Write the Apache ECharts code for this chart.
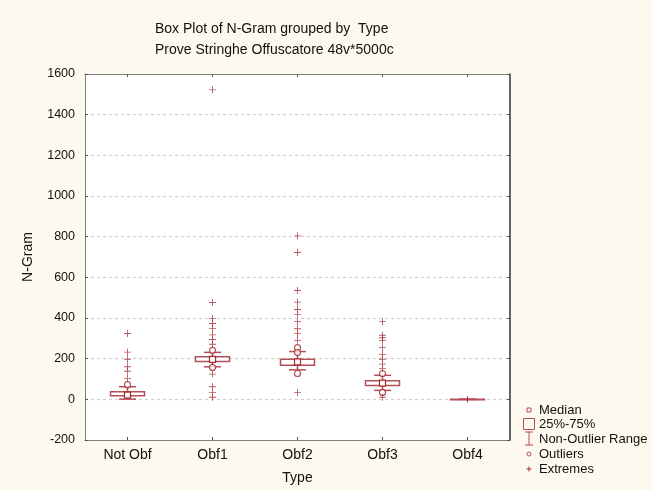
<!DOCTYPE html>
<html>
<head>
<meta charset="utf-8">
<script src="https://cdn.jsdelivr.net/npm/echarts@6/dist/echarts.min.js"></script>
<style>html,body{margin:0;padding:0;background:#fdf9ee;}#c{width:652px;height:490px;}</style>
</head>
<body>
<div id="c"></div>
<script>
const categories = ['Not Obf', 'Obf1', 'Obf2', 'Obf3', 'Obf4'];
const whiskerLow = [1, 160, 145, 44, 0];
const q1 = [18, 186, 168, 68, 0];
const median = [21, 197, 184, 80, 0];
const q3 = [37, 209, 197, 92, 0];
const whiskerHigh = [62, 231, 235, 118, 0];
const outlierValues = [[72], [241, 157], [254, 230, 127], [127, 34], []];
const extremeValues = [
  [324, 232, 197, 160, 138, 103],
  [1522, 476, 398, 373, 349, 317, 294, 271, 124, 62, 34, 10],
  [804, 722, 535, 478, 442, 418, 382, 347, 323, 290, 34],
  [382, 315, 303, 290, 254, 220, 197, 173, 151, 10],
  []
];
const yTicks = { min: -200, max: 1600, interval: 200 };

const RED = '#a32a33';
const BOX = '#b34f56';
const FONT = 'Liberation Sans, Arial';

const boxData = categories.map((c, i) => [i, whiskerLow[i], q1[i], median[i], q3[i], whiskerHigh[i]]);
const outlierData = [];
outlierValues.forEach((arr, i) => arr.forEach(v => outlierData.push([i, v])));
const extremeData = [];
extremeValues.forEach((arr, i) => arr.forEach(v => extremeData.push([i, v])));

const plusPath = 'path://M3.5,0h1v8h-1zM0,3.5h8v1h-8z';

const chart = echarts.init(document.getElementById('c'), null, { renderer: 'canvas' });
const axisLine = { show: true, onZero: false, lineStyle: { color: '#7f7f7f', width: 1 } };
const legendText = (t, y) => ({ type: 'text', x: 539, y: y, style: { text: t, fontFamily: FONT, fontSize: 13, fill: '#111', verticalAlign: 'middle' } });
const seg = (x1, y1, x2, y2, c) => ({ type: 'line', shape: { x1, y1, x2, y2 }, style: { stroke: c || BOX, lineWidth: 1 } });
chart.setOption({
  backgroundColor: '#fdf9ee',
  animation: false,
  title: {
    text: 'Box Plot of N-Gram grouped by  Type\nProve Stringhe Offuscatore 48v*5000c',
    left: 150, top: 14,
    textStyle: { fontFamily: FONT, fontSize: 14, fontWeight: 'normal', color: '#111', lineHeight: 21 }
  },
  grid: { left: 85, top: 74, right: 142, bottom: 47, show: true, backgroundColor: '#ffffff', borderWidth: 0 },
  xAxis: [{
    type: 'category', data: categories, boundaryGap: true,
    name: 'Type', nameLocation: 'middle', nameGap: 31,
    nameTextStyle: { fontFamily: FONT, fontSize: 14, color: '#111' },
    axisLine: axisLine,
    axisTick: { show: true, inside: true, alignWithLabel: true, length: 3, lineStyle: { color: '#555' } },
    axisLabel: { fontFamily: FONT, fontSize: 14, color: '#111', margin: 8 },
    splitLine: { show: false }
  }, {
    type: 'category', data: categories, boundaryGap: true, position: 'top',
    axisLine: axisLine,
    axisTick: { show: true, inside: true, alignWithLabel: true, length: 3, lineStyle: { color: '#555' } },
    axisLabel: { show: false }, splitLine: { show: false }
  }],
  yAxis: [{
    type: 'value', min: yTicks.min, max: yTicks.max, interval: yTicks.interval,
    name: 'N-Gram', nameLocation: 'middle', nameGap: 50,
    nameTextStyle: { fontFamily: FONT, fontSize: 14, color: '#111' },
    axisLine: axisLine,
    axisTick: { show: true, inside: true, length: 3, lineStyle: { color: '#555' } },
    axisLabel: { fontFamily: FONT, fontSize: 12.5, color: '#111', margin: 10, formatter: v => String(v) },
    splitLine: { show: true, showMinLine: false, showMaxLine: false, lineStyle: { color: '#cfcfcf', type: [3, 3], width: 1.2 } }
  }, {
    type: 'value', min: yTicks.min, max: yTicks.max, interval: yTicks.interval, position: 'right',
    axisLine: { show: true, onZero: false, lineStyle: { color: '#333', width: 1.5 } },
    axisTick: { show: true, inside: true, length: 3, lineStyle: { color: '#555' } },
    axisLabel: { show: false }, splitLine: { show: false }
  }],
  series: [{
    name: 'Boxes', type: 'custom', xAxisIndex: 0, yAxisIndex: 0,
    data: boxData,
    encode: { x: 0, y: [1, 2, 3, 4, 5] },
    renderItem: function (params, api) {
      const c = api.value(0);
      const pLow = api.coord([c, api.value(1)]);
      const pQ1 = api.coord([c, api.value(2)]);
      const pMed = api.coord([c, api.value(3)]);
      const pQ3 = api.coord([c, api.value(4)]);
      const pHigh = api.coord([c, api.value(5)]);
      const band = api.size([1, 0])[0];
      const hw = band * 0.2, cw = band * 0.1;
      const x = pQ1[0];
      const ls = { stroke: BOX, lineWidth: 1.5 };
      const children = [
        { type: 'line', shape: { x1: x, y1: pLow[1], x2: x, y2: pQ1[1] }, style: ls },
        { type: 'line', shape: { x1: x, y1: pQ3[1], x2: x, y2: pHigh[1] }, style: ls },
        { type: 'line', shape: { x1: x - cw, y1: pLow[1], x2: x + cw, y2: pLow[1] }, style: ls },
        { type: 'line', shape: { x1: x - cw, y1: pHigh[1], x2: x + cw, y2: pHigh[1] }, style: ls },
        { type: 'rect', shape: { x: x - hw, y: pQ3[1], width: 2 * hw, height: Math.max(0.5, pQ1[1] - pQ3[1]) },
          style: { fill: '#fff', stroke: BOX, lineWidth: 1.5 } }
      ];
      if (pQ1[1] - pQ3[1] > 1) {
        children.push({ type: 'rect', shape: { x: x - 3, y: pMed[1] - 3, width: 6, height: 6 },
          style: { fill: '#fff', stroke: RED, lineWidth: 1.2 } });
      } else {
        children.push({ type: 'line', shape: { x1: x, y1: pMed[1] - 3, x2: x, y2: pMed[1] + 3 }, style: { stroke: RED, lineWidth: 1 } });
      }
      return { type: 'group', children: children };
    },
    z: 2
  }, {
    name: 'Outliers', type: 'scatter', xAxisIndex: 0, yAxisIndex: 0,
    data: outlierData, symbol: 'circle', symbolSize: 6,
    itemStyle: { color: '#fff', borderColor: RED, borderWidth: 1.2 }, z: 3
  }, {
    name: 'Extremes', type: 'scatter', xAxisIndex: 0, yAxisIndex: 0,
    data: extremeData, symbol: plusPath, symbolSize: 7,
    itemStyle: { color: RED }, z: 4
  }],
  graphic: [
    { type: 'rect', shape: { x: 527, y: 408, width: 4, height: 4 }, style: { fill: 'none', stroke: BOX, lineWidth: 1 } },
    { type: 'rect', shape: { x: 523.5, y: 418.5, width: 11, height: 11 }, style: { fill: 'none', stroke: BOX, lineWidth: 1 } },
    seg(525, 432, 533, 432),
    seg(529, 432, 529, 445),
    seg(525, 445, 533, 445),
    { type: 'circle', shape: { cx: 529, cy: 454, r: 2 }, style: { fill: 'none', stroke: BOX, lineWidth: 1 } },
    seg(529, 466.5, 529, 471.5, RED),
    seg(526.5, 469, 531.5, 469, RED),
    legendText('Median', 410),
    legendText('25%-75%', 424),
    legendText('Non-Outlier Range', 439),
    legendText('Outliers', 454),
    legendText('Extremes', 469)
  ]
});
</script>
</body>
</html>
